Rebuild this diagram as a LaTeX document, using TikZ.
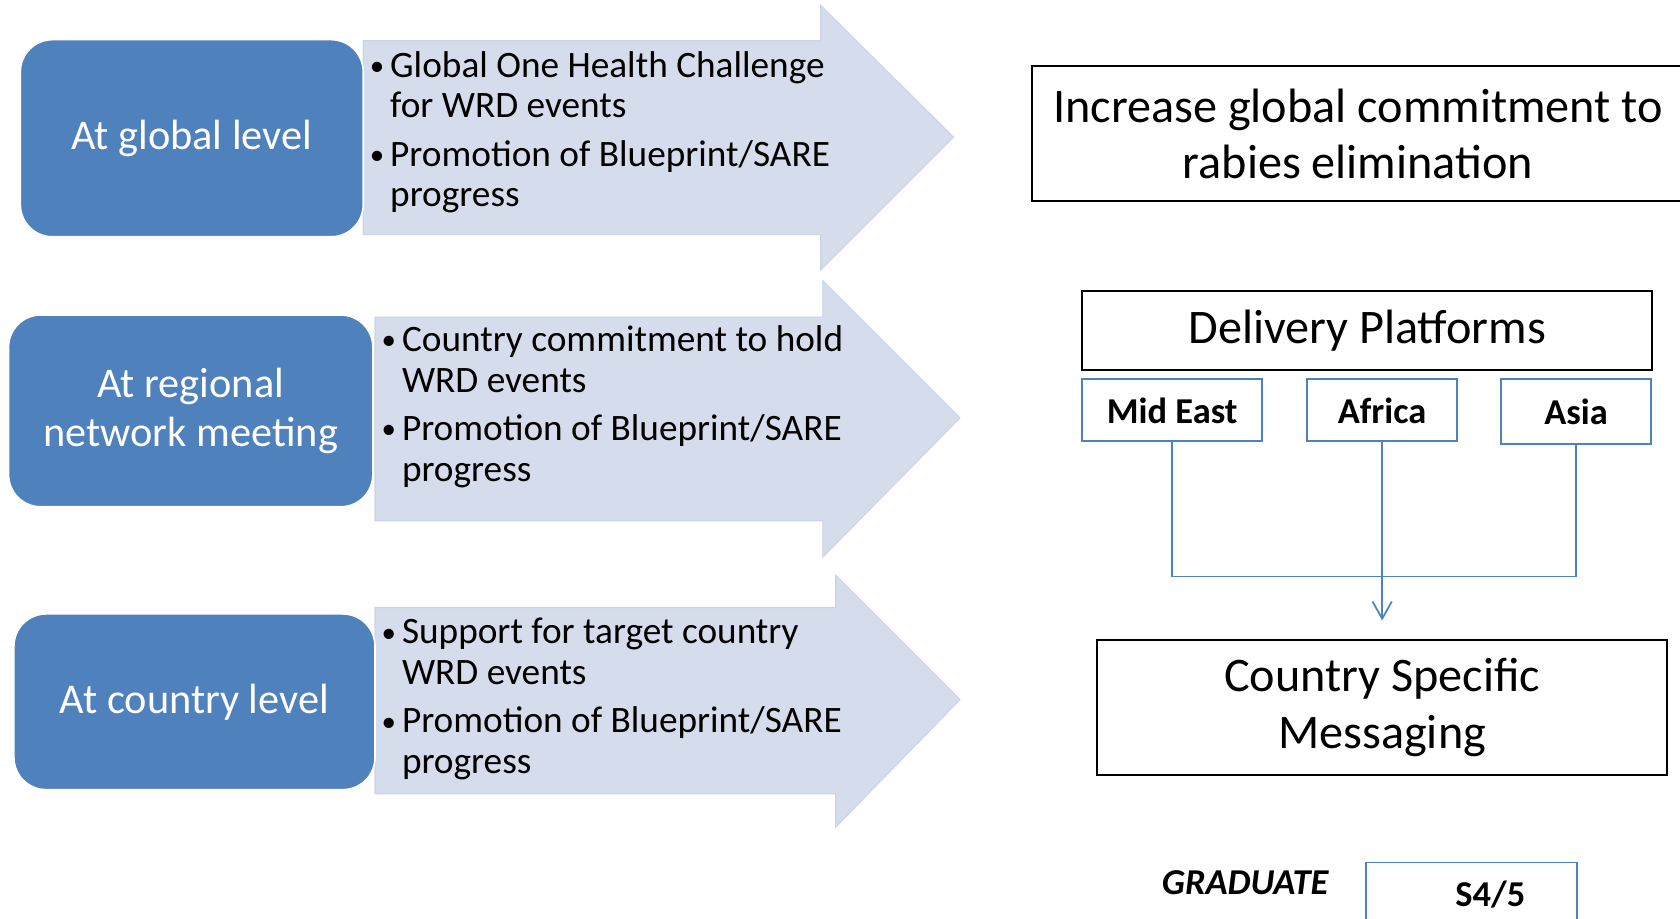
\documentclass[tikz,border=0pt]{standalone}
\usepackage{fontspec}
\setmainfont{Carlito}
\usetikzlibrary{arrows.meta}
\definecolor{boxblue}{HTML}{4F81BD}
\definecolor{arrowfill}{HTML}{D5DCEB}
\definecolor{arrowedge}{HTML}{CCD4E7}
\newcommand\bul{\makebox[19pt][l]{\raisebox{1.5pt}{\fontsize{27}{30}\selectfont •}}}
\begin{document}
\begin{tikzpicture}[x=1pt,y=-1pt,
  levelbox/.style={rectangle, rounded corners=30pt, fill=boxblue, draw=white, line width=1.5pt,
    text=white, align=center, font=\fontsize{39.5}{45}\selectfont},
  bigarrow/.style={fill=arrowfill, draw=arrowedge, line width=1pt},
  bullettext/.style={anchor=base west, inner sep=0pt, font=\fontsize{34.8}{38}\selectfont},
  blackbox/.style={rectangle, draw=black, line width=1.8pt, align=center, inner sep=0pt,
    font=\fontsize{45}{53}\selectfont},
  regionbox/.style={rectangle, draw=boxblue, line width=1.8pt, inner sep=0pt,
    font=\bfseries\fontsize{34}{38}\selectfont},
  bline/.style={draw=boxblue, line width=1.6pt}]
\useasboundingbox (0,0) rectangle (1568,857);
\clip (0,0) rectangle (1568,857);
\fill[white] (0,0) rectangle (1568,857);

% big arrows
\path[bigarrow] (339,38) -- (766,38) -- (766,5) -- (890,128) -- (766,252) -- (766,219) -- (339,219) -- cycle;
\path[bigarrow] (350,296) -- (768,296) -- (768,262) -- (896,390) -- (768,520) -- (768,486) -- (350,486) -- cycle;
\path[bigarrow] (350,567) -- (780,567) -- (780,537) -- (896,653) -- (780,772) -- (780,741) -- (350,741) -- cycle;

% level boxes
\node[levelbox, minimum width=320pt, minimum height=184pt] (lg) at (179,129) {At global level};
\node[levelbox, minimum width=340pt, minimum height=179pt] (lr) at (178,383.5) {At regional\\network meeting};
\node[levelbox, minimum width=337pt, minimum height=164pt] (lc) at (181.5,655) {At country level};

% bullet texts
\node[bullettext] (t1) at (345,72) {\begin{tabular}[t]{@{}l@{}l@{}}
\bul & Global One Health Challenge\\
 & for WRD events\\[7pt]
\bul & Promotion of Blueprint/SARE\\
 & progress\end{tabular}};
\node[bullettext] (t2) at (356,328) {\begin{tabular}[t]{@{}l@{}l@{}}
\bul & Country commitment to hold\\
 & WRD events\\[7pt]
\bul & Promotion of Blueprint/SARE\\
 & progress\end{tabular}};
\node[bullettext] (t3) at (356,601) {\begin{tabular}[t]{@{}l@{}l@{}}
\bul & Support for target country\\
 & WRD events\\[7pt]
\bul & Promotion of Blueprint/SARE\\
 & progress\end{tabular}};

% right side
\node[blackbox, minimum width=609pt, minimum height=126pt] (inc) at (1267.5,125) {Increase global commitment to\\rabies elimination};
\node[blackbox, minimum width=532pt, minimum height=73pt] (dp) at (1276,308.5) {Delivery Platforms};
\node[regionbox, minimum width=168pt, minimum height=58pt] (me) at (1094,383) {Mid East};
\node[regionbox, minimum width=140pt, minimum height=58pt] (af) at (1290,383) {Africa};
\node[regionbox, minimum width=140pt, minimum height=60pt] (as) at (1471,384) {Asia};
\node[blackbox, minimum width=532pt, minimum height=126pt] (csm) at (1290,660) {Country Specific\\Messaging};

\coordinate (jn) at (1290,538);
\draw[bline] (me.south) |- (jn) -| (as.south);
\draw[bline, -{Straight Barb[length=16pt, width=18pt, line width=1.6pt]}, shorten >=17pt] (af.south) -- (af.south |- csm.north);

% bottom
\node[anchor=base east, inner sep=0pt, font=\bfseries\itshape\fontsize{34}{38}\selectfont] (grad) at (1240,835) {GRADUATE};
\node[regionbox, minimum width=197pt, minimum height=75pt] (s45box) at (1373.5,842.5) {};
\node[anchor=base, inner sep=0pt, font=\bfseries\fontsize{34}{38}\selectfont] (s45) at (1391,846) {S4/5};
\end{tikzpicture}
\end{document}
